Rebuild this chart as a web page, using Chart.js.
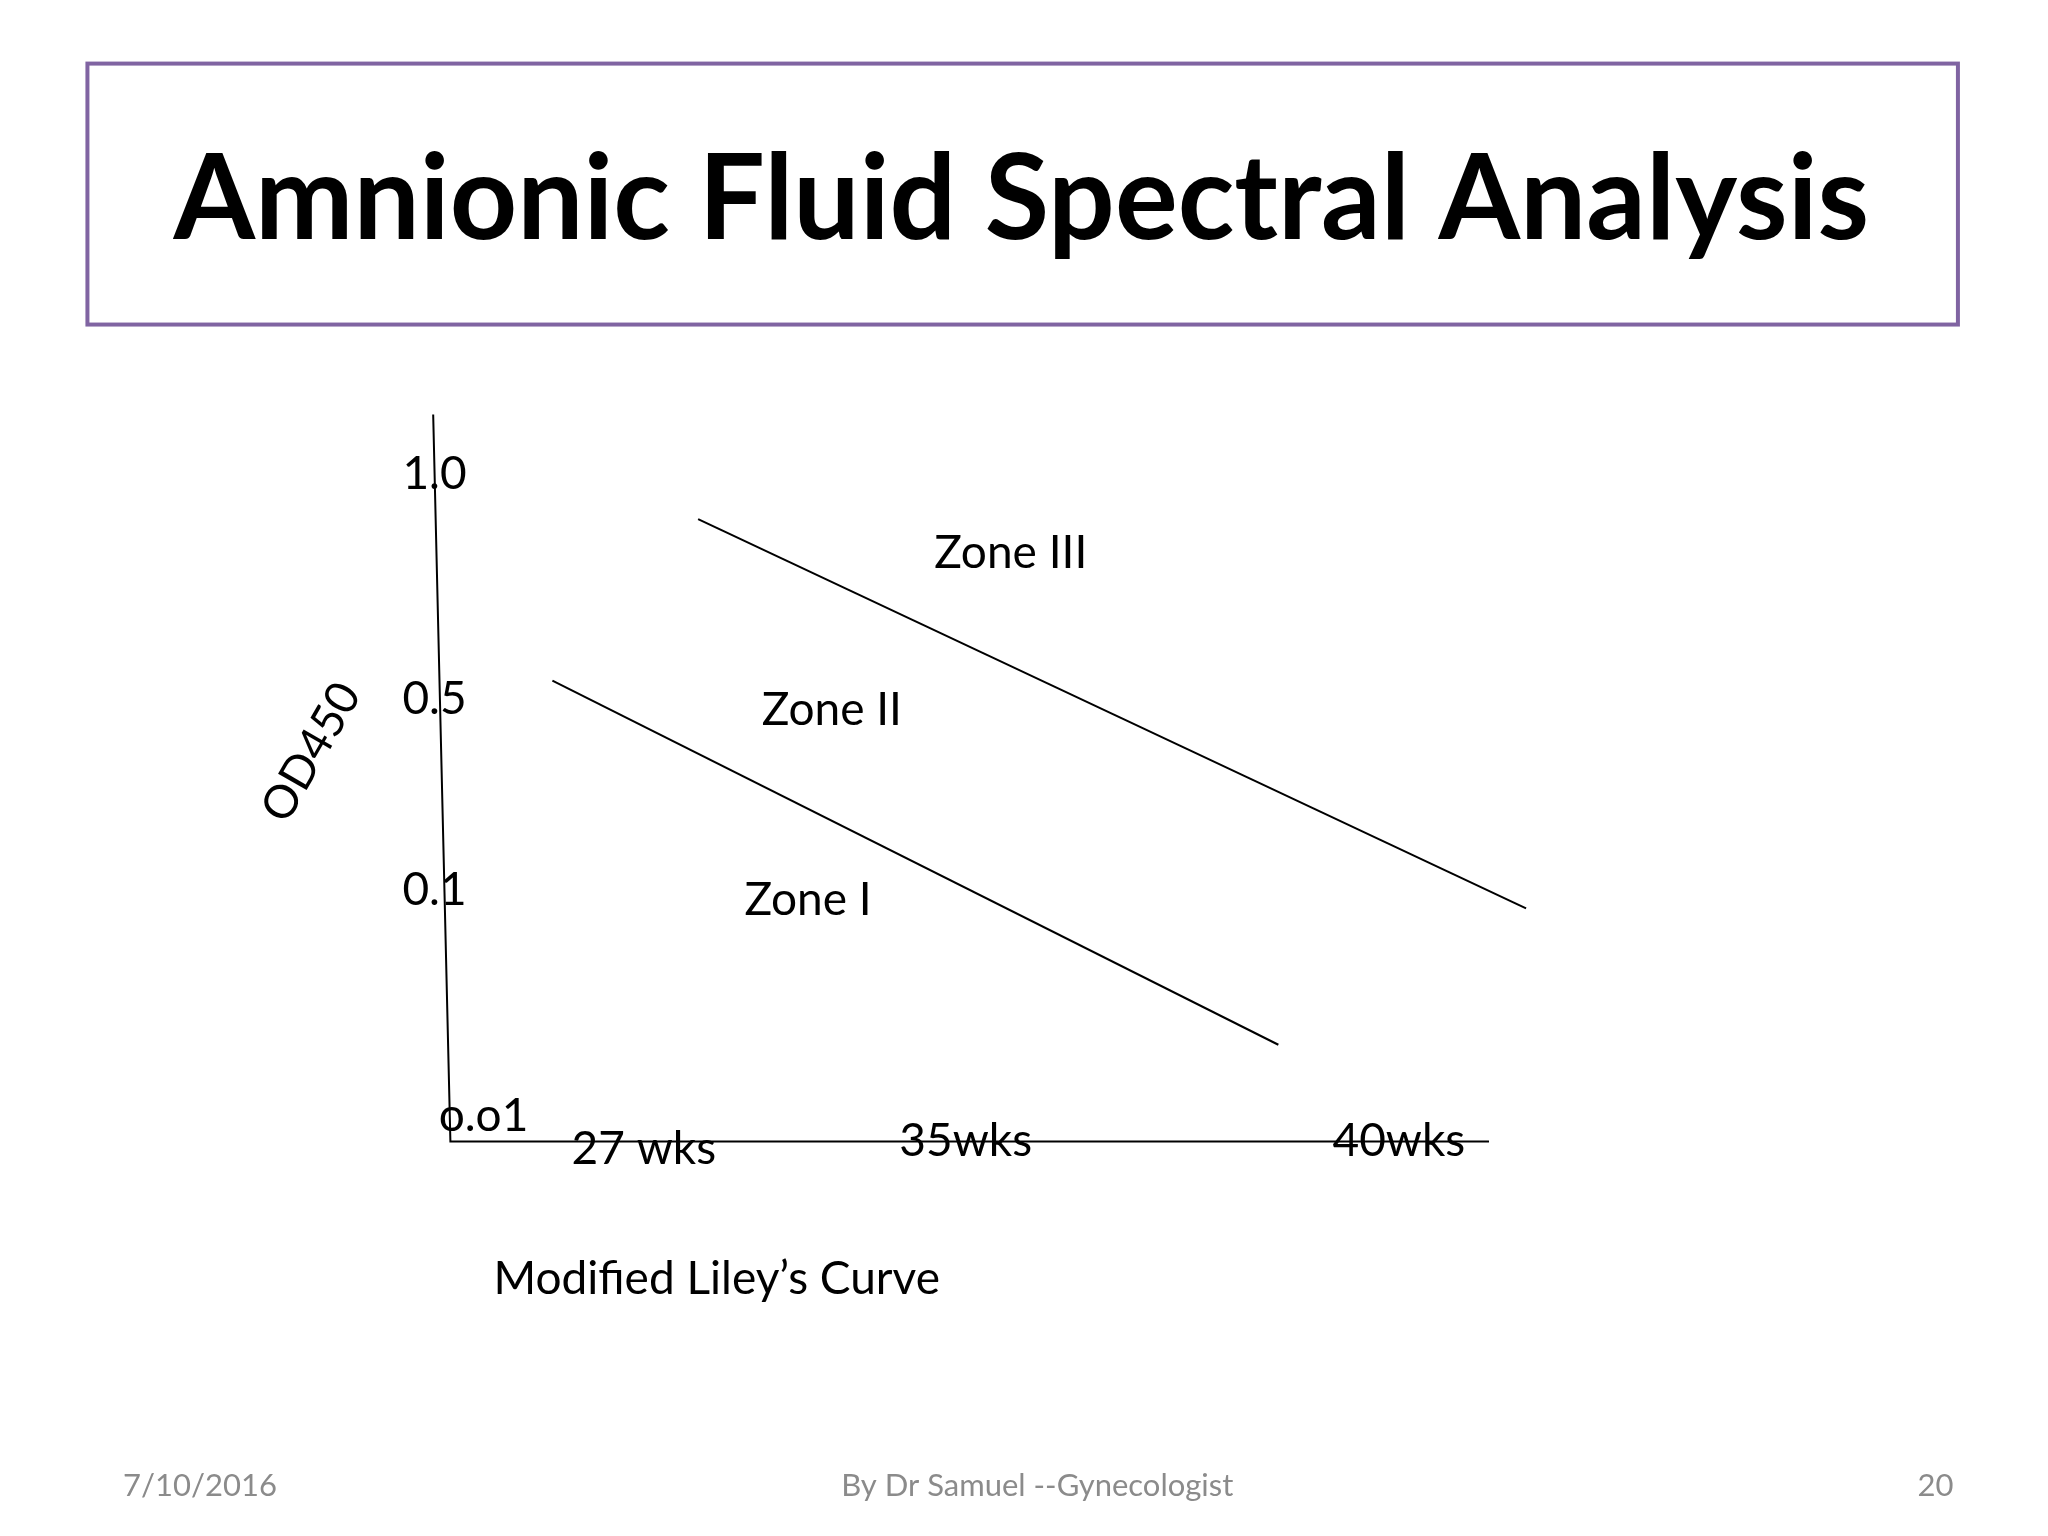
<!DOCTYPE html>
<html><head><meta charset="utf-8">
<script src="https://cdn.jsdelivr.net/npm/chart.js@4"></script>
<style>html,body{margin:0;padding:0;background:#fff}#wrap{width:2048px;height:1536px}</style>
</head><body><div id="wrap"><canvas id="c" width="2048" height="1536"></canvas></div>
<script>
// Data in chart units (origin at axis corner, y up)
const axisLine = [{x:-13,y:549},{x:0,y:0},{x:784,y:0}];
const zone3Boundary = [{x:187,y:470},{x:812,y:176}];
const zone2Boundary = [{x:77,y:348},{x:625,y:73}];
const zoneLabels = ["Zone III","Zone II","Zone I"];
const zoneLabelPos = [{x:423,y:444},{x:288,y:326},{x:270,y:182}];
const yTickLabels = ["1.0","0.5","0.1","o.o1"];
const yTickPos = [{x:-12,y:504},{x:-12,y:334},{x:-12,y:190},{x:25,y:19}];
const xTickLabels = ["27 wks","35wks","40wks"];
const xTickPos = [{x:146,y:-6},{x:389,y:0},{x:716,y:0}];

const S = 2048/1546;
const textPlugin = {
  id:'texts',
  afterDraw(chart){
    const ctx = chart.ctx, xs = chart.scales.x, ys = chart.scales.y;
    const P = p => [xs.getPixelForValue(p.x), ys.getPixelForValue(p.y)];
    ctx.save();
    ctx.textAlign='center'; ctx.textBaseline='middle';
    // title box
    ctx.strokeStyle='#8064A2'; ctx.lineWidth=4;
    ctx.strokeRect(66*S,48*S,(1478-66)*S,(245-48)*S);
    ctx.fillStyle='#000';
    ctx.font='bold 118px Lato';
    const w = ctx.measureText('Amnionic Fluid Spectral Analysis').width;
    const k = (1280*S)/w;
    ctx.save(); ctx.translate(771*S,152*S); ctx.scale(k,1);
    ctx.fillText('Amnionic Fluid Spectral Analysis',0,0); ctx.restore();
    ctx.font='46px Lato';
    zoneLabels.forEach((t,i)=>{const [x,y]=P(zoneLabelPos[i]);ctx.fillText(t,x,y);});
    yTickLabels.forEach((t,i)=>{const [x,y]=P(yTickPos[i]);ctx.fillText(t,x,y);});
    xTickLabels.forEach((t,i)=>{const [x,y]=P(xTickPos[i]);ctx.fillText(t,x,y);});
    ctx.save(); ctx.translate(235*S,568*S); ctx.rotate(-Math.PI/3);
    ctx.fillText('OD450',0,0); ctx.restore();
    ctx.fillText('Modified Liley\u2019s Curve',541*S,966*S);
    ctx.fillStyle='#8b8b8b'; ctx.font='31px Lato';
    ctx.fillText('7/10/2016',151*S,1122*S);
    ctx.fillText('By Dr Samuel --Gynecologist',783*S,1122*S);
    ctx.fillText('20',1461*S,1122*S);
    ctx.restore();
  }
};
const ds = d => ({data:d, showLine:true, borderColor:'#000', borderWidth:2, pointRadius:0, fill:false});
new Chart(document.getElementById('c'),{
  type:'scatter',
  data:{datasets:[ds(axisLine),ds(zone3Boundary),ds(zone2Boundary)]},
  options:{
    responsive:false, animation:false, devicePixelRatio:1,
    layout:{padding:0},
    plugins:{legend:{display:false},tooltip:{enabled:false}},
    scales:{
      x:{type:'linear',min:-340,max:1206,display:false},
      y:{type:'linear',min:-298,max:862,display:false}
    }
  },
  plugins:[textPlugin]
});
</script></body></html>
